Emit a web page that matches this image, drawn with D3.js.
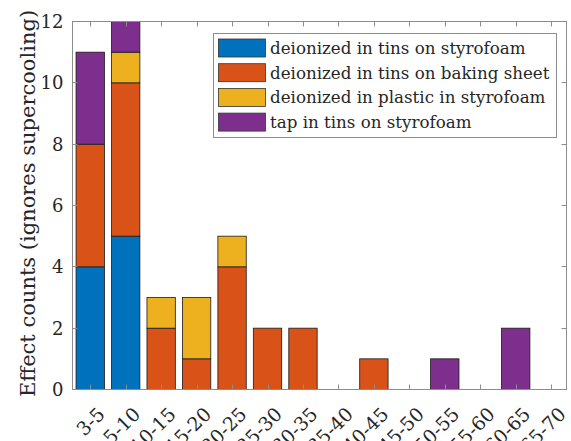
<!DOCTYPE html>
<html>
<head>
<meta charset="utf-8">
<script src="https://cdn.jsdelivr.net/npm/d3@7"></script>
<style>
  html, body { margin: 0; padding: 0; background: #fff; }
  svg { display: block; }
  text { font-family: "DejaVu Serif", serif; fill: #262626; }
</style>
</head>
<body>
<svg id="chart" width="571" height="441"></svg>
<script>
// Time bins (minutes) and effect counts per experimental setup
const categories = ["3-5", "5-10", "10-15", "15-20", "20-25", "25-30", "30-35",
                    "35-40", "40-45", "45-50", "50-55", "55-60", "60-65", "65-70"];
const seriesNames = ["deionized in tins on styrofoam",
                     "deionized in tins on baking sheet",
                     "deionized in plastic in styrofoam",
                     "tap in tins on styrofoam"];
const tinsStyrofoam   = [4, 5, 0, 0, 0, 0, 0, 0, 0, 0, 0, 0, 0, 0];
const tinsBakingSheet = [4, 5, 2, 1, 4, 2, 2, 0, 1, 0, 0, 0, 0, 0];
const plasticStyro    = [0, 1, 1, 2, 1, 0, 0, 0, 0, 0, 0, 0, 0, 0];
const tapStyrofoam    = [3, 1, 0, 0, 0, 0, 0, 0, 0, 0, 1, 0, 2, 0];
const yTicks = [0, 2, 4, 6, 8, 10, 12];
const colors = ["#0072BD", "#D95319", "#EDB120", "#7E2F8E"];
const yLabel = "Effect counts (ignores supercooling)";

const seriesValues = [tinsStyrofoam, tinsBakingSheet, plasticStyro, tapStyrofoam];
const table = categories.map((c, i) => {
  const row = { cat: c };
  seriesNames.forEach((n, k) => { row[n] = seriesValues[k][i]; });
  return row;
});

const svg = d3.select("#chart");
const L = 72.5, R = 566.5, T = 21.5, B = 389.5;

const x = d3.scaleBand().domain(categories)
  .range([L, 568.9]).paddingInner(0.2).paddingOuter(0.1);
const y = d3.scaleLinear().domain([0, 12]).range([B, T]);

svg.append("defs").append("clipPath").attr("id", "plotclip")
  .append("rect").attr("x", L).attr("y", T).attr("width", R - L).attr("height", B - T);

const stacked = d3.stack().keys(seriesNames)(table);

const bars = svg.append("g").attr("clip-path", "url(#plotclip)");
stacked.forEach((layer, k) => {
  bars.append("g").attr("fill", colors[k])
    .selectAll("rect")
    .data(layer.filter(d => d[1] - d[0] > 0))
    .join("rect")
    .attr("x", d => x(d.data.cat))
    .attr("width", x.bandwidth())
    .attr("y", d => y(d[1]))
    .attr("height", d => y(d[0]) - y(d[1]))
    .attr("stroke", "#1a1a1a")
    .attr("stroke-width", 0.8);
});

// Axes box with inward ticks on all sides
const axisColor = "#8c8c8c";
const ax = svg.append("g");
const tickLen = 5;
categories.forEach(c => {
  const cx = Math.round(x(c) + x.bandwidth() / 2) + 0.5;
  ax.append("line").attr("x1", cx).attr("x2", cx).attr("y1", B).attr("y2", B - tickLen)
    .attr("stroke", axisColor);
  ax.append("line").attr("x1", cx).attr("x2", cx).attr("y1", T).attr("y2", T + tickLen)
    .attr("stroke", axisColor);
});
yTicks.forEach(v => {
  const yy = Math.round(y(v) - 0.5) + 0.5;
  ax.append("line").attr("x1", L).attr("x2", L + tickLen).attr("y1", yy).attr("y2", yy)
    .attr("stroke", axisColor);
  ax.append("line").attr("x1", R).attr("x2", R - tickLen).attr("y1", yy).attr("y2", yy)
    .attr("stroke", axisColor);
});
ax.append("rect").attr("x", L).attr("y", T).attr("width", R - L).attr("height", B - T)
  .attr("fill", "none").attr("stroke", axisColor).attr("stroke-width", 1);

// Y tick labels
svg.append("g").selectAll("text").data(yTicks).join("text")
  .attr("x", L - 9).attr("y", d => y(d)).attr("dy", "0.36em")
  .attr("text-anchor", "end").attr("font-size", 18)
  .text(d => d);

// X tick labels, rotated
svg.append("g").selectAll("text").data(categories).join("text")
  .attr("transform", d => {
    const cx = x(d) + x.bandwidth() / 2;
    return `translate(${cx + 11},${B + 21}) rotate(-45)`;
  })
  .attr("text-anchor", "end").attr("dy", "0.36em").attr("font-size", 19)
  .text(d => d);

// Y axis title
svg.append("text")
  .attr("transform", `translate(27,${(T + B) / 2 - 2}) rotate(-90)`)
  .attr("text-anchor", "middle").attr("dy", "0.36em").attr("font-size", 21)
  .text(yLabel);

// Legend
const lg = svg.append("g");
lg.append("rect").attr("x", 213.5).attr("y", 33.5).attr("width", 343).attr("height", 104)
  .attr("fill", "#fff").attr("stroke", axisColor);
seriesNames.forEach((n, k) => {
  const ry = 39 + k * 24.7;
  lg.append("rect").attr("x", 218.5).attr("y", ry).attr("width", 47).attr("height", 18)
    .attr("fill", colors[k]).attr("stroke", "#333").attr("stroke-width", 0.8);
  lg.append("text").attr("x", 270).attr("y", ry + 9).attr("dy", "0.36em")
    .attr("font-size", 16.7).text(n);
});
</script>
</body>
</html>
